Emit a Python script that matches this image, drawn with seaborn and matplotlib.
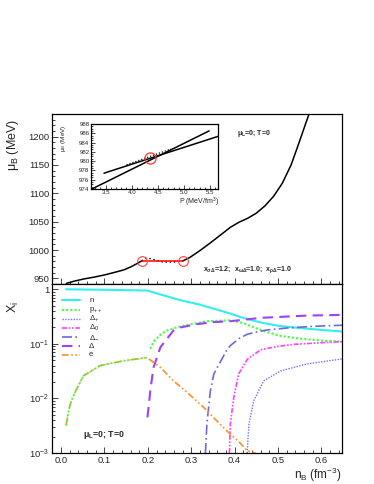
import numpy as np
import pandas as pd
import seaborn as sns
import matplotlib.pyplot as plt
from matplotlib.ticker import MultipleLocator, FixedLocator, LogLocator, NullFormatter

# ---- data ----
# top panel: mu_B vs n_B
nb_stable1 = [0.012, 0.03, 0.053, 0.075, 0.1, 0.129, 0.145, 0.16, 0.175, 0.186]
mu_stable1 = [941, 945, 949, 952, 956, 961.7, 965, 970, 976, 981]
nb_unstable = [0.186, 0.192, 0.198, 0.21, 0.236, 0.26, 0.281]
mu_unstable = [981, 984, 986, 984, 978.5, 978.8, 981]
nb_stable2 = [0.281, 0.297, 0.32, 0.343, 0.37, 0.39, 0.41, 0.43, 0.45, 0.47,
              0.49, 0.51, 0.53, 0.545, 0.56, 0.575]
mu_stable2 = [981, 987, 999, 1012, 1028, 1040, 1049, 1056, 1065, 1078,
              1095, 1118, 1150, 1182, 1215, 1248]
nb_coex = [0.186, 0.281]
mu_coex = [981, 981]

# inset: mu_B vs P
p_branch1 = [3.47, 5.7]
mu_branch1 = [977.4, 985.5]
p_branch2 = [3.15, 5.48]
mu_branch2 = [973.5, 986.5]
p_unstable = [3.9, 4.75]
mu_unstable_in = [979.2, 982.6]
p_cross = [4.35]
mu_cross = [980.6]

# bottom panel: particle fractions
x_n = [0.0115, 0.1, 0.198, 0.23, 0.275, 0.317, 0.352, 0.39, 0.413, 0.44, 0.467, 0.5, 0.544, 0.6, 0.65]
y_n = [1.0, 0.98, 0.95, 0.8, 0.63, 0.53, 0.44, 0.36, 0.31, 0.27, 0.24, 0.215, 0.197, 0.18, 0.168]
x_p = [0.2055, 0.213, 0.23, 0.244, 0.275, 0.313, 0.336, 0.36, 0.39, 0.42, 0.452, 0.48, 0.506, 0.55, 0.6, 0.65]
y_p = [0.081, 0.11, 0.15, 0.176, 0.21, 0.24, 0.26, 0.265, 0.27, 0.24, 0.19, 0.16, 0.14, 0.125, 0.115, 0.11]
x_e = [0.0115, 0.016, 0.021, 0.03, 0.0515, 0.09, 0.144, 0.198, 0.213, 0.229, 0.259, 0.29, 0.329, 0.36, 0.383, 0.41, 0.429, 0.448]
y_e = [0.0032, 0.0052, 0.0079, 0.012, 0.026, 0.04, 0.049, 0.056, 0.046, 0.037, 0.021, 0.013, 0.0068, 0.0038, 0.0025, 0.0016, 0.0011, 0.001]
x_d = [0.199, 0.2025, 0.2055, 0.213, 0.229, 0.259, 0.275, 0.313, 0.35, 0.39, 0.46, 0.567, 0.65]
y_d = [0.0045, 0.008, 0.0138, 0.037, 0.087, 0.176, 0.2, 0.23, 0.25, 0.26, 0.30, 0.33, 0.34]
x_dm = [0.3326, 0.336, 0.344, 0.352, 0.36, 0.383, 0.39, 0.41, 0.429, 0.45, 0.475, 0.52, 0.583, 0.65]
y_dm = [0.001, 0.0034, 0.0138, 0.028, 0.037, 0.08, 0.093, 0.125, 0.15, 0.165, 0.18, 0.195, 0.21, 0.22]
x_d0 = [0.388, 0.39, 0.398, 0.409, 0.429, 0.46, 0.5, 0.536, 0.6, 0.65]
y_d0 = [0.001, 0.0034, 0.0104, 0.028, 0.052, 0.078, 0.09, 0.098, 0.105, 0.11]
x_dp = [0.4288, 0.431, 0.433, 0.444, 0.467, 0.506, 0.567, 0.648]
y_dp = [0.001, 0.002, 0.0034, 0.0091, 0.021, 0.032, 0.043, 0.053]

labels = ['n', 'p$_{++}$', r'Δ$_{+}$', r'Δ$_{0}$', r'Δ$_{-}$', 'Δ', 'e']
ytick_vals = [1e-3, 1e-2, 1e-1, 1]
ytick_labels = ['10$^{-3}$', '10$^{-2}$', '10$^{-1}$', '1']

sns.set_style("ticks")
plt.rcParams['font.family'] = ['Liberation Sans', 'DejaVu Sans']
plt.rcParams['mathtext.fontset'] = 'custom'
plt.rcParams['mathtext.rm'] = 'Liberation Sans'
plt.rcParams['mathtext.it'] = 'Liberation Sans:italic'
plt.rcParams['mathtext.bf'] = 'Liberation Sans:bold'
plt.rcParams['mathtext.default'] = 'regular'

fig = plt.figure(figsize=(3.74, 4.84), dpi=100)
ax1 = fig.add_axes([0.139, 0.4132, 0.775, 0.3513])
ax2 = fig.add_axes([0.139, 0.064, 0.775, 0.3492])
axi = fig.add_axes([0.243, 0.6095, 0.34, 0.1345])

xlim = (-0.021, 0.647)

def style_ax(ax, lab=6.8):
    for s in ax.spines.values():
        s.set_visible(True)
        s.set_linewidth(0.9)
        s.set_color('black')
    ax.tick_params(which='both', direction='in', labelsize=lab, width=0.7, color='#444444', pad=2)
    ax.tick_params(which='major', length=4)
    ax.tick_params(which='minor', length=2)

# ---- top panel ----
df1 = pd.DataFrame({'nB': nb_stable1, 'mu': mu_stable1})
df2 = pd.DataFrame({'nB': nb_stable2, 'mu': mu_stable2})
sns.lineplot(data=df1, x='nB', y='mu', ax=ax1, color='black', lw=1.1, sort=False, estimator=None)
sns.lineplot(data=df2, x='nB', y='mu', ax=ax1, color='black', lw=1.1, sort=False, estimator=None)
ax1.plot(nb_unstable, mu_unstable, color='black', lw=1.0, ls=(0, (1, 2)))
ax1.plot(nb_coex, mu_coex, color='red', lw=1.1)
ax1.plot(nb_coex, mu_coex, 'o', ms=7, mfc='none', mec='#ff4040', mew=0.8)
ax1.set_xlim(*xlim)
ax1.set_ylim(940, 1240)
ax1.xaxis.set_major_locator(MultipleLocator(0.1))
ax1.xaxis.set_minor_locator(MultipleLocator(0.02))
ax1.yaxis.set_major_locator(MultipleLocator(50))
ax1.yaxis.set_minor_locator(MultipleLocator(10))
ax1.set_xticklabels([])
ax1.set_xlabel('')
ax1.set_ylabel('')
style_ax(ax1)
fig.text(0.035, 0.70, 'μ$_B$ (MeV)', rotation=90, ha='center', va='center', fontsize=9)
ax1.text(0.638, 0.885, 'μ$_L$=0; T=0', transform=ax1.transAxes, fontsize=5, fontweight='bold',
         ha='left', va='center')
ax1.text(0.52, 0.082, 'x$_{σΔ}$=1.2;  x$_{ωΔ}$=1.0;  x$_{ρΔ}$=1.0', transform=ax1.transAxes,
         fontsize=5, fontweight='bold', ha='left', va='center')

# ---- inset ----
axi.plot(p_branch1, mu_branch1, color='black', lw=1.1)
axi.plot(p_branch2, mu_branch2, color='black', lw=1.1)
axi.plot(p_unstable, mu_unstable_in, color='black', lw=0.9, ls=(0, (1, 1.5)))
axi.plot(p_cross, mu_cross, 'o', ms=8, mfc='none', mec='#ff3030', mew=0.9)
axi.set_xlim(3.22, 5.65)
axi.set_ylim(974, 988)
axi.xaxis.set_major_locator(MultipleLocator(0.5))
axi.xaxis.set_minor_locator(MultipleLocator(0.1))
axi.yaxis.set_major_locator(MultipleLocator(2))
axi.yaxis.set_minor_locator(MultipleLocator(0.5))
style_ax(axi, lab=4.4)
axi.tick_params(which='major', length=3)
axi.tick_params(which='minor', length=1.5)
axi.tick_params(pad=1)
fig.text(63 / 374, 1 - 138 / 484, 'μ$_B$ (MeV)', rotation=90, ha='center', va='center', fontsize=4.6)
fig.text(219 / 374, 1 - 202 / 484, 'P (MeV/fm$^3$)', ha='right', va='center', fontsize=5)

# ---- bottom panel ----
curves = [
    (x_n, y_n, '#33f0f0', '-', 1.5),
    (x_p, y_p, '#40ff40', (0, (1, 1)), 1.5),
    (x_dp, y_dp, '#7070ff', (0, (1, 1)), 1.0),
    (x_d0, y_d0, '#ff40ff', (0, (3, 1, 1, 1, 1, 1)), 1.2),
    (x_dm, y_dm, '#6a6add', (0, (6, 2, 1, 2)), 1.2),
    (x_d, y_d, '#a040ff', (0, (5, 3)), 1.5),
    (x_e, y_e, '#ff9020', (0, (4, 1.5, 1, 1.5, 1, 1.5)), 1.2),
]
for (xs, ys, c, ls, lw) in curves:
    d = pd.DataFrame({'nB': xs, 'X': ys})
    sns.lineplot(data=d, x='nB', y='X', ax=ax2, color=c, lw=lw, linestyle=ls, sort=False, estimator=None)
# p and e coincide at low density
ax2.plot(x_e[:8], y_e[:8], color='#40ff40', lw=1.2, ls=(0, (1, 1)))

ax2.set_yscale('log')
ax2.set_xlim(*xlim)
ax2.set_ylim(1e-3, 1.25)
ax2.xaxis.set_major_locator(MultipleLocator(0.1))
ax2.xaxis.set_minor_locator(MultipleLocator(0.02))
ax2.yaxis.set_major_locator(FixedLocator(ytick_vals))
ax2.set_yticklabels(ytick_labels)
ax2.yaxis.set_minor_locator(LogLocator(base=10, subs=np.arange(2, 10)))
ax2.yaxis.set_minor_formatter(NullFormatter())
ax2.set_xlabel('')
ax2.set_ylabel('')
style_ax(ax2)
fig.text(0.035, 1 - 307 / 484, 'X$_i$', rotation=90, ha='center', va='center', fontsize=9)
fig.text(342 / 374, 1 - 466 / 484, 'n$_B$ (fm$^{-3}$)', ha='right', va='top', fontsize=8.5)
ax2.text(0.107, 0.107, 'μ$_L$=0; T=0', transform=ax2.transAxes, fontsize=6.3, fontweight='bold',
         ha='left', va='center')

# legend drawn by hand to get the tight row spacing
rows = [0.905, 0.845, 0.792, 0.739, 0.686, 0.633, 0.580]
for (xs, ys, c, ls, lw), lab, ry in zip(curves, labels, rows):
    ax2.plot([0.034, 0.097], [ry, ry], transform=ax2.transAxes, color=c, lw=lw, linestyle=ls)
    ax2.text(0.128, ry, lab, transform=ax2.transAxes, fontsize=5.6, ha='left', va='center')

fig.savefig('out.png', dpi=100)
